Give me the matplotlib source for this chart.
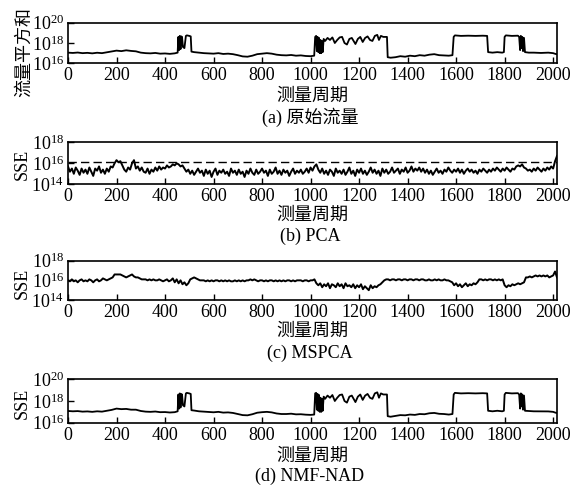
import matplotlib
matplotlib.use('Agg')
import matplotlib.pyplot as plt
import numpy as np

plt.rcParams['font.family'] = ['Liberation Serif', 'Noto Sans CJK SC']
plt.rcParams['mathtext.fontset'] = 'stix'

# (a) raw traffic, vertices (log10 of value)
raw_x = [0, 20, 40, 60, 80, 100, 120, 140, 160, 180, 200, 220, 240, 260, 280, 300, 320, 340, 360, 380,
         400, 420, 440, 452, 455, 458, 461, 464, 467, 470, 474, 480, 486, 490, 500, 506, 509, 520, 540, 560,
         580, 600, 620, 640, 660, 680, 700, 720, 740, 760, 780, 800, 820, 840, 860, 880, 900, 920, 940, 960,
         980, 1000, 1015, 1019, 1023, 1026, 1029, 1032, 1035, 1038, 1041, 1044, 1047, 1050, 1054, 1060, 1070, 1080, 1090, 1100,
         1110, 1120, 1130, 1140, 1150, 1160, 1170, 1180, 1185, 1195, 1205, 1215, 1225, 1235, 1245, 1255, 1265, 1275, 1282, 1290,
         1300, 1315, 1318, 1330, 1350, 1370, 1390, 1410, 1430, 1450, 1470, 1490, 1510, 1530, 1550, 1570, 1585, 1590, 1595, 1620,
         1650, 1680, 1710, 1728, 1732, 1750, 1770, 1790, 1797, 1800, 1805, 1830, 1855, 1860, 1864, 1867, 1870, 1873, 1876, 1880,
         1884, 1900, 1920, 1950, 1980, 2000, 2010, 2016]
raw_y = [17.05, 17.02, 17.06, 17.0, 17.03, 16.98, 17.04, 17.0, 17.08, 17.15, 17.25, 17.2, 17.28, 17.22, 17.18, 17.05, 17.0, 16.98, 17.02, 16.95,
         16.97, 16.93, 16.98, 17.05, 18.6, 17.3, 18.7, 17.4, 18.65, 18.6, 17.6, 17.5, 18.7, 18.75, 18.7, 18.65, 17.15, 17.1, 17.05, 17.0,
         16.98, 16.95, 17.0, 16.92, 16.95, 16.9, 16.8, 16.68, 16.65, 16.75, 16.9, 16.95, 17.0, 16.95, 16.85, 16.8, 16.78, 16.82, 16.75, 16.78,
         16.72, 16.7, 16.75, 18.6, 18.7, 17.2, 18.6, 17.1, 18.5, 17.0, 18.3, 17.0, 18.2, 17.1, 18.4, 18.2, 18.5, 18.3, 18.55, 18.0,
         18.3, 18.55, 18.6, 18.0, 17.85, 18.4, 18.5, 18.1, 17.9, 18.4, 18.6, 18.1, 18.5, 18.65, 18.3, 18.2, 18.7, 18.8, 18.3, 18.7,
         18.6, 18.6, 16.6, 16.55, 16.6, 16.7, 16.65, 16.75, 16.7, 16.8, 16.75, 16.85, 16.9, 16.8, 16.78, 16.75, 16.8, 18.6, 18.75, 18.7,
         18.72, 18.7, 18.72, 18.7, 17.1, 17.05, 17.1, 17.05, 17.1, 18.6, 18.75, 18.7, 18.72, 18.6, 17.3, 18.7, 17.5, 18.6, 17.2, 18.5,
         17.1, 17.05, 17.05, 17.02, 17.05, 17.0, 16.92, 16.9]

# (d) NMF-NAD
nmf_x = raw_x
nmf_y = [17.08, 17.05, 17.07, 17.02, 17.04, 17.0, 17.05, 17.02, 17.1, 17.18, 17.3, 17.25, 17.27, 17.2, 17.2, 17.08, 17.02, 17.0, 17.03, 16.97,
         16.98, 16.94, 16.97, 17.05, 18.6, 17.3, 18.7, 17.4, 18.65, 18.6, 17.6, 17.5, 18.7, 18.75, 18.7, 18.65, 17.15, 17.12, 17.05, 17.02,
         16.98, 16.96, 17.0, 16.93, 16.95, 16.9, 16.8, 16.7, 16.68, 16.78, 16.92, 16.97, 17.0, 16.95, 16.85, 16.8, 16.8, 16.83, 16.77, 16.78,
         16.74, 16.72, 16.75, 18.7, 18.75, 17.2, 18.65, 17.1, 18.55, 17.0, 18.3, 17.0, 18.2, 17.1, 18.4, 18.2, 18.5, 18.3, 18.55, 18.0,
         18.3, 18.55, 18.6, 18.0, 17.85, 18.4, 18.5, 18.1, 17.9, 18.4, 18.6, 18.1, 18.5, 18.65, 18.3, 18.2, 18.7, 18.8, 18.3, 18.7,
         18.6, 18.6, 16.6, 16.55, 16.62, 16.7, 16.68, 16.75, 16.72, 16.8, 16.78, 16.87, 16.9, 16.82, 16.8, 16.75, 16.8, 18.6, 18.75, 18.7,
         18.72, 18.7, 18.72, 18.7, 17.1, 17.05, 17.1, 17.05, 17.1, 18.6, 18.75, 18.7, 18.72, 18.6, 17.3, 18.7, 17.5, 18.6, 17.2, 18.5,
         17.1, 17.08, 17.05, 17.05, 17.04, 17.0, 16.92, 16.9]

# (b) PCA and (c) MSPCA, one value every 8 periods, log10 x 10
step_x = list(range(0, 2017, 8))
pca_y = [157, 152, 155, 150, 156, 153, 149, 155, 151, 154,
         150, 156, 152, 148, 155, 153, 157, 151, 154, 150,
         155, 152, 157, 156, 160, 163, 161, 162, 158, 154,
         152, 156, 154, 160, 163, 155, 157, 153, 156, 152,
         151, 155, 150, 154, 152, 156, 153, 157, 154, 156,
         155, 158, 156, 157, 159, 158, 160, 159, 157, 158,
         155, 152, 154, 150, 153, 149, 152, 155, 151, 153,
         148, 154, 150, 153, 147, 152, 155, 149, 153, 151,
         154, 150, 152, 148, 155, 151, 153, 149, 154, 150,
         152, 147, 153, 150, 155, 151, 149, 154, 150, 152,
         155, 151, 153, 148, 154, 150, 152, 156, 150, 153,
         149, 154, 151, 153, 148, 152, 155, 150, 153, 151,
         154, 150, 152, 155, 151, 156, 153, 157, 159, 154,
         151, 155, 150, 153, 149, 154, 152, 148, 155, 151,
         153, 150, 154, 149, 152, 156, 150, 153, 148, 154,
         151, 155, 150, 153, 149, 152, 156, 151, 154, 150,
         153, 148, 155, 151, 154, 150, 152, 156, 151, 153,
         155, 150, 154, 152, 156, 151, 153, 157, 152, 155,
         153, 156, 152, 155, 151, 154, 150, 153, 149, 152,
         155, 151, 153, 150, 154, 152, 156, 153, 151, 154,
         152, 155, 151, 154, 150, 153, 155, 152, 154, 151,
         153, 150, 154, 152, 155, 153, 151, 154, 152, 155,
         153, 156, 154, 152, 155, 153, 156, 154, 152, 155,
         154, 157, 158, 157, 159, 156, 155, 153, 154, 152,
         155, 153, 156, 154, 152, 155, 153, 156, 154, 157,
         155, 162, 167]
mspca_y = [160, 159, 161, 159, 160, 158, 160, 161, 159, 160,
           159, 161, 160, 158, 160, 161, 159, 160, 162, 161,
           160, 161, 162, 163, 166, 166, 166, 166, 165, 164,
           163, 164, 165, 166, 164, 163, 163, 162, 161, 161,
           161, 160, 161, 160, 161, 160, 160, 161, 160, 159,
           160, 161, 159, 160, 162, 158, 161, 157, 160, 156,
           158, 155, 157, 161, 162, 163, 162, 161, 160, 160,
           160, 159, 160, 159, 160, 159, 160, 160, 159, 160,
           159, 160, 159, 160, 159, 159, 160, 159, 160, 159,
           160, 159, 160, 160, 161, 160, 161, 160, 159, 160,
           160, 159, 160, 159, 160, 160, 159, 160, 159, 160,
           159, 160, 159, 160, 160, 159, 160, 159, 160, 160,
           160, 159, 160, 160, 159, 160, 160, 161, 157, 155,
           157, 153, 156, 154, 157, 152, 156, 155, 153, 157,
           154, 156, 152, 157, 154, 155, 153, 156, 152, 155,
           153, 156, 151, 154, 152, 150, 155, 152, 154, 153,
           155, 156, 158, 160, 161, 161, 160, 161, 161, 160,
           161, 161, 160, 161, 161, 160, 161, 161, 160, 161,
           161, 160, 161, 161, 160, 160, 161, 160, 160, 161,
           160, 161, 160, 160, 161, 160, 160, 159, 158, 155,
           157, 154, 156, 153, 155, 157, 154, 156, 155, 157,
           156, 158, 161, 161, 160, 161, 160, 161, 161, 160,
           161, 160, 161, 160, 161, 155, 153, 155, 154, 156,
           155, 156, 157, 156, 157, 158, 163, 163, 164, 163,
           164, 165, 164, 165, 164, 165, 164, 165, 163, 164,
           165, 169, 163]
pca_limit = 16.1

xticks = list(range(0, 2001, 200))

fig = plt.figure(figsize=(5.82, 4.88), dpi=100)
H = 488.0
W = 582.0


def make_axes(top, bottom):
    return fig.add_axes([68 / W, 1 - bottom / H, (557 - 68) / W, (bottom - top) / H])


ax_a = make_axes(22.7, 63.3)
ax_b = make_axes(142.3, 184.3)
ax_c = make_axes(260.7, 300.0)
ax_d = make_axes(379.3, 422.7)

ax_a.plot(raw_x, 10 ** np.array(raw_y), color='black', lw=1.3)
ax_b.plot(step_x, 10 ** (np.array(pca_y) / 10), color='black', lw=1.4)
ax_b.axhline(10 ** pca_limit, color='black', lw=1.0, linestyle=(0, (6, 3)))
ax_c.plot(step_x, 10 ** (np.array(mspca_y) / 10), color='black', lw=1.4)
ax_d.plot(nmf_x, 10 ** np.array(nmf_y), color='black', lw=1.3)

ylims = [(1e16, 1e20), (1e14, 1e18), (1e14, 1e18), (1e16, 1e20)]
for ax, yl in zip([ax_a, ax_b, ax_c, ax_d], ylims):
    ax.set_yscale('log')
    ax.set_ylim(yl)
    ax.set_xlim(0, 2016)
    ax.set_xticks(xticks)
    lo = int(np.log10(yl[0]))
    ax.set_yticks([10.0 ** lo, 10.0 ** (lo + 2), 10.0 ** (lo + 4)])
    ax.minorticks_off()
    ax.tick_params(direction='in', length=4, width=1, labelsize=13, pad=3)
    for s in ax.spines.values():
        s.set_linewidth(1.2)

# texts, positions in pixels of the reference
def ptext(x, y, s, size=13, rot=0):
    fig.text(x / W, 1 - y / H, s, ha='center', va='center', fontsize=size, rotation=rot)


ptext(25, 52, '流量平方和', 13, 90)
ptext(22.5, 164, 'SSE', 13, 90)
ptext(22.5, 283, 'SSE', 13, 90)
ptext(22.5, 403, 'SSE', 13, 90)

for xl, cap, cy in [(96.7, '(a) 原始流量', 117), (215, '(b) PCA', 236.7),
                    (331.7, '(c) MSPCA', 353), (456.7, '(d) NMF-NAD', 476.7)]:
    ptext(312, xl, '测量周期', 13)
    ptext(310, cy, cap, 13)

fig.savefig('out.png', dpi=100)
